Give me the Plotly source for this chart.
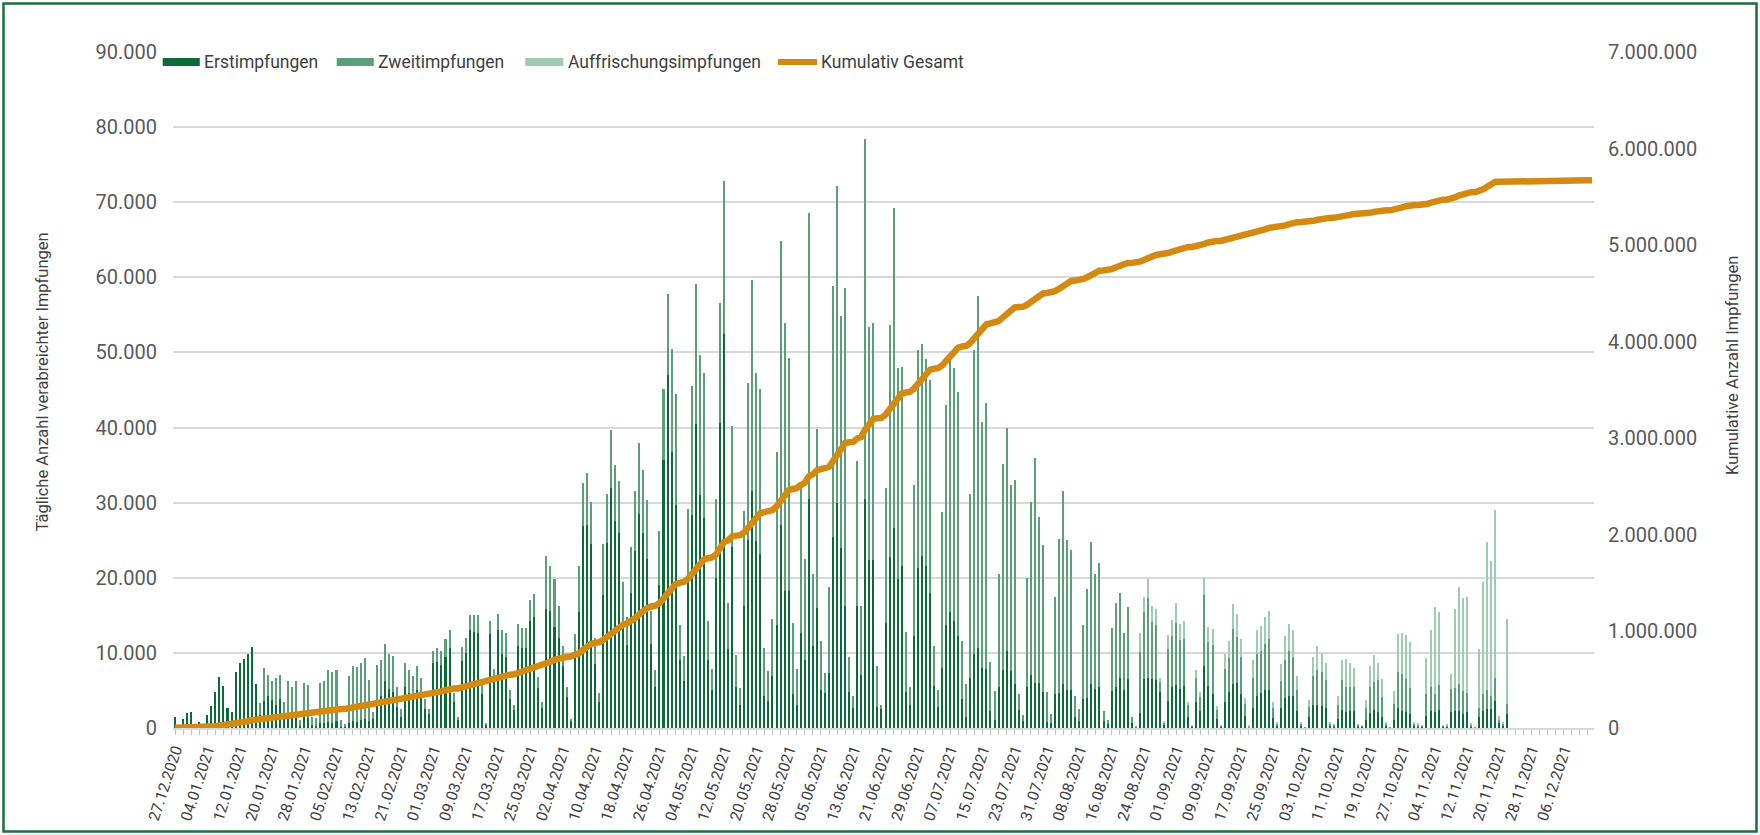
import numpy as np
import pandas as pd
import plotly.graph_objects as go

N_DAYS = 352  # 27.12.2020 - 13.12.2021
dates = pd.date_range("2020-12-27", periods=N_DAYS, freq="D").strftime("%d.%m.%Y").tolist()

erst = [
    1400, 300, 1200, 2000, 2100, 200, 800, 100, 1700, 2900, 4800, 6800, 5600, 2600, 2100, 7400, 8600, 9200, 9900, 10800, 5900,
    1700, 3600, 4200, 3700, 3000, 3900, 1800, 1600, 1500, 1700, 300, 1400, 1300, 400, 300,
    600, 700, 800, 700, 900, 200, 100, 700, 900, 800, 1000, 1200, 900,
    1200, 3500, 4200, 6300, 5200, 4800, 2800, 1400, 5400, 4700, 4100, 5000, 4000, 2500,
    1800, 8600, 8800, 8400, 9500, 10600, 3500, 1100, 8900, 10000, 13000, 12800, 12700, 4500,
    500, 12500, 6400, 13000, 9800, 9400, 3800, 2400, 10900, 10600, 10700, 14200, 14800, 5300,
    2600, 15800, 15600, 13500, 12000,
    8200, 4100, 900, 10000, 15400, 26900, 27000, 24500, 8500, 3500,
    17700, 24600, 31900, 27600, 26000, 14000, 11000,
    18000, 23500, 28500, 26000, 22500, 11200, 5500,
    19000, 35700, 47000, 36800, 29700, 9000, 6200,
    20000, 28400, 40500, 31000, 28000, 9000, 5000,
    20000, 40600, 52500, 10500, 24100, 5500, 3000,
    16200, 25000, 31600, 24900, 23100, 4300, 3600,
    6900, 13700, 27000, 18300, 18300, 4500, 3000,
    12700, 9000, 30500, 10900, 16000, 5100, 4600,
    7300, 25400, 30000, 24000, 16300, 4800, 2700,
    16300, 7000, 30500, 22400, 22400, 2800, 2500,
    14000, 22800, 26600, 19800, 21600, 4800, 3000,
    12200, 21300, 22900, 21600, 18000, 5600, 2800,
    8000,
    13700, 15400, 14300, 12200, 3900, 1500,
    6600, 9800, 10700, 8000, 7900, 2300, 1100,
    5500, 7700, 10300, 7600, 5900, 2400, 900,
    5500, 7100, 6000, 6000, 4800, 800, 600,
    4500, 4700, 5900, 5100, 5100, 1500, 900,
    3900, 4000, 5800, 5200, 5400, 900, 500,
    4900, 5400, 6600, 5100, 6500, 600,
    100,
    2000, 6500, 6600, 6500, 6400, 4800, 400,
    3600, 5400, 5700, 5200, 5600, 1500, 200,
    3400, 2200, 8200, 5600, 4500, 1200, 200,
    3400, 4800, 5900, 6000, 4500, 1600, 100,
    2700, 4200, 4600, 5000, 5000, 1300, 300,
    2700, 4000, 4200, 4200, 2300, 300, 50,
    1500,
    3000, 3000, 2900, 2600, 300, 200,
    1200, 2400, 2100, 2300, 2300, 200, 150,
    1000, 2000, 2400, 2100, 1500, 300, 50,
    1100, 2600, 2300, 2100, 1900, 300, 200,
    150, 1600, 2200, 2100, 2400, 150, 200,
    2100, 2300, 2300, 1900, 2100, 250, 50,
    1400, 2200, 2500, 2500, 3600, 600, 300,
    1900,
]

zweit = [0] * 21 + [
    1600, 4400, 2800, 2500, 3600, 3200, 1700, 4600, 3900, 4500, 700, 4600, 4400, 1000, 1000,
    5400, 5600, 6900, 6800, 6800, 800, 400, 6200, 7400, 7300, 7600, 8100, 5500,
    900, 4900, 4900, 4900, 4600, 4800, 2600, 1100, 3300, 3000, 2800, 3200, 2600, 1400,
    700, 1700, 1800, 1900, 2300, 2400, 1100, 300, 1900, 2000, 2100, 2200, 2300, 1200,
    100, 1700, 1500, 2200, 3300, 3300, 1200, 700, 2900, 2700, 2600, 2800, 3100, 1500,
    800, 7100, 6000, 6300, 4200,
    2700, 1400, 300, 2500, 6200, 5700, 6900, 5600, 3500, 1100,
    6800, 6600, 7800, 7400, 6900, 5500, 3800,
    6100, 8000, 9500, 8300, 7900, 4400, 2200,
    7200, 9400, 10800, 13600, 14800, 4700, 3400,
    9100, 17100, 18600, 18600, 19300, 5200, 2800,
    10500, 16000, 20300, 6100, 16100, 4200, 2300,
    12700, 20900, 28000, 22400, 22000, 6300, 4000,
    7600, 23000, 37900, 35600, 30900, 9500, 4900,
    19200, 13500, 38100, 9600, 23800, 6500, 2700,
    11500, 33500, 42100, 30900, 42300, 4600, 1600,
    19200, 9200, 47900, 31000, 31500, 5400, 600,
    17900, 30900, 42600, 28100, 26400, 8000, 2500,
    20200, 29000, 28200, 27500, 28300, 5300, 2300,
    20700,
    29300, 34400, 33600, 32500, 7700, 4400,
    24600, 40500, 46800, 32800, 35400, 6500, 3800,
    15000, 27400, 29700, 24800, 27100, 2100, 800,
    14500, 23000, 29900, 22100, 19500, 4000, 1200,
    13000, 20400, 25600, 19900, 18600, 2800, 1600,
    9800, 14500, 18900, 15300, 16600, 1300, 500,
    8400, 11200, 11400, 7500, 9600, 800,
    200,
    8100, 8900, 10700, 7600, 7300, 1300, 300,
    6900, 6800, 8300, 6500, 6300, 1500, 150,
    3200, 1900, 9500, 5800, 6500, 1200, 150,
    4500, 4500, 7300, 6100, 4900, 1600, 150,
    4000, 5600, 5700, 6200, 6800, 1400, 300,
    3600, 5100, 6000, 5300, 2800, 300, 50,
    1300,
    3900, 4700, 4500, 3800, 300, 200,
    1900, 4000, 3300, 3100, 3100, 200, 150,
    1600, 3500, 3700, 4300, 2600, 300, 50,
    2100, 4900, 4900, 4400, 3400, 300, 200,
    150, 2900, 3300, 2400, 3300, 150, 150,
    3100, 3000, 3500, 3000, 2600, 250, 50,
    1300, 2300, 2500, 1800, 3100, 500, 300,
    1300,
]

auffrischung = [0] * 239 + [
    2500, 2000, 2500, 2100, 2100, 600, 100,
    1900, 2200, 2600, 2200, 2300, 500, 50,
    1100, 700, 2300, 2100, 2200, 500, 50,
    2000, 2300, 3300, 3100, 2400, 800, 50,
    2400, 3200, 3300, 3600, 3800, 800, 100,
    2200, 3200, 3700, 3500, 1800, 200, 0,
    900,
    2500, 3200, 2600, 2200, 200, 100,
    1100, 2600, 3800, 3200, 2600, 100, 100,
    1100, 2800, 3600, 2200, 2400, 200, 0,
    1700, 5000, 5500, 5900, 6100, 200, 200,
    100, 4800, 7500, 11600, 9800, 100, 150,
    2000, 10500, 13000, 12400, 12800, 200, 0,
    7800, 15000, 19800, 18000, 22300, 500, 200,
    11300,
]

assert len(erst) == len(zweit) == len(auffrischung) == 331, (len(erst), len(zweit), len(auffrischung))

# no vaccinations reported after 22.11.2021
pad = [0] * (N_DAYS - len(erst))
erst_all = erst + pad
zweit_all = zweit + pad
auff_all = auffrischung + pad
kumulativ = np.cumsum(np.array(erst_all) + np.array(zweit_all) + np.array(auff_all)).tolist()

series_names = ["Erstimpfungen", "Zweitimpfungen", "Auffrischungsimpfungen", "Kumulativ Gesamt"]
C_ERST, C_ZWEIT, C_AUFF, C_LINE = "#0B6A37", "#5B9E79", "#9FCAB3", "#D48A11"

tick_vals = dates[::2]
tick_text = [d if i % 4 == 0 else "" for i, d in enumerate(tick_vals)]

fig = go.Figure()
for name, vals, col in [(series_names[0], erst_all, C_ERST),
                        (series_names[1], zweit_all, C_ZWEIT),
                        (series_names[2], auff_all, C_AUFF)]:
    fig.add_trace(go.Bar(x=dates, y=vals, name=name, marker=dict(color=col, line=dict(width=0)),
                         yaxis="y", showlegend=False))
fig.add_trace(go.Scatter(x=dates, y=kumulativ, name=series_names[3], mode="lines",
                         line=dict(color=C_LINE, width=6.5), yaxis="y2", showlegend=False))

W, H = 1760, 835
L, R, T, B = 173, 166, 52, 107
PW, PH = W - L - R, H - T - B

def px(x):
    return (x - L) / PW

def py(y):
    return (H - B - y) / PH

FONT = "Roboto, Arial, sans-serif"
shapes = [
    dict(type="rect", xref="paper", yref="paper", x0=px(3.5), x1=px(1756.5), y0=py(831.5), y1=py(3.5),
         line=dict(color="#17703F", width=2.5), fillcolor="rgba(0,0,0,0)", layer="above"),
]
legend_items = [
    (162.7, 199.8, 203, C_ERST, "rect"),
    (336.7, 373.8, 377, C_ZWEIT, "rect"),
    (525.3, 563.4, 567, C_AUFF, "rect"),
    (778.0, 817.0, 820, C_LINE, "line"),
]
annotations = []
LEG_Y = 62.0
for (x0, x1, tx, col, kind), name in zip(legend_items, series_names):
    if kind == "rect":
        shapes.append(dict(type="rect", xref="paper", yref="paper", x0=px(x0), x1=px(x1),
                           y0=py(LEG_Y + 4), y1=py(LEG_Y - 4), fillcolor=col, line=dict(width=0)))
    else:
        shapes.append(dict(type="line", xref="paper", yref="paper", x0=px(x0), x1=px(x1),
                           y0=py(LEG_Y), y1=py(LEG_Y), line=dict(color=col, width=6)))
    annotations.append(dict(text=name, xref="paper", yref="paper", x=px(tx), y=py(LEG_Y),
                            xanchor="left", yanchor="middle", showarrow=False, borderpad=0,
                            font=dict(family=FONT, size=17.5, color="#404040")))

annotations.append(dict(text="Tägliche Anzahl verabreichter Impfungen", xref="paper", yref="paper",
                        x=px(41.5), y=py(382), textangle=-90, showarrow=False,
                        xanchor="center", yanchor="middle",
                        font=dict(family=FONT, size=16.5, color="#404040")))
annotations.append(dict(text="Kumulative Anzahl Impfungen", xref="paper", yref="paper",
                        x=px(1732), y=py(366), textangle=-90, showarrow=False,
                        xanchor="center", yanchor="middle",
                        font=dict(family=FONT, size=16.5, color="#404040")))

fig.update_layout(
    width=W, height=H,
    margin=dict(l=L, r=R, t=T, b=B, autoexpand=False),
    paper_bgcolor="white", plot_bgcolor="white",
    barmode="stack", bargap=0.5,
    separators=",.",
    showlegend=False,
    xaxis=dict(type="category", range=[-0.5, N_DAYS - 0.5], tickmode="array",
               tickvals=tick_vals, ticktext=tick_text, tickangle=-72,
               tickfont=dict(family=FONT, size=15.5, color="#404040"),
               ticks="outside", ticklen=5, tickcolor="#BFBFBF", tickwidth=1,
               showline=True, linecolor="#D9D9D9", linewidth=1.5, showgrid=False,
               zeroline=False),
    yaxis=dict(range=[0, 90000], tickmode="array", tickvals=list(range(0, 90001, 10000)),
               tickformat=",d", showgrid=True, gridcolor="#D9D9D9", gridwidth=1.5,
               zeroline=False, showline=False, ticks="",
               ticklabelstandoff=15,
               tickfont=dict(family=FONT, size=20, color="#595959")),
    yaxis2=dict(range=[0, 7000000], overlaying="y", side="right", tickmode="array",
                tickvals=list(range(0, 7000001, 1000000)), tickformat=",d",
                showgrid=False, zeroline=False, showline=False, ticks="",
                ticklabelstandoff=13,
                tickfont=dict(family=FONT, size=20, color="#595959")),
    shapes=shapes,
    annotations=annotations,
)

fig.write_html("out.html", config={"displayModeBar": False},
               post_script="document.body.style.margin='0px';document.body.style.overflow='hidden';")
